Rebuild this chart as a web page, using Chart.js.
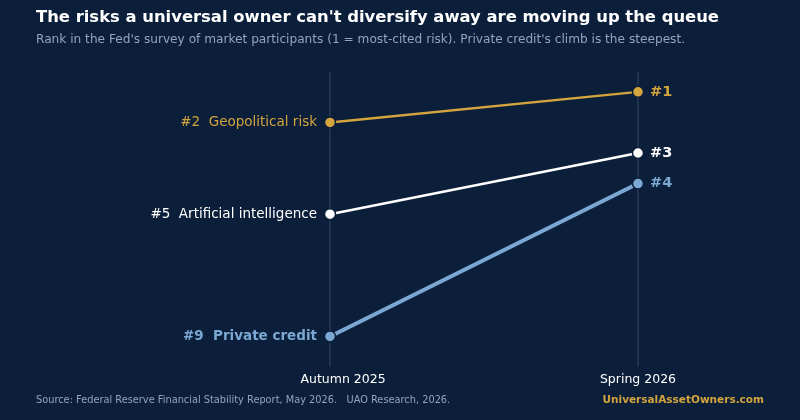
<!DOCTYPE html>
<html><head><meta charset="utf-8">
<script src="https://cdn.jsdelivr.net/npm/chart.js@4"></script>
<style>html,body{margin:0;background:#0b1f3a}#wrap{width:800px;height:420px}</style>
</head><body><div id="wrap"><canvas id="c"></canvas></div>
<script>
const periods = ["Autumn 2025", "Spring 2026"];
const risks = ["Geopolitical risk", "Artificial intelligence", "Private credit"];
const autumnRank = [2, 5, 9];
const springRank = [1, 3, 4];
const colors = ["#d4a43e", "#ffffff", "#7ba8d2"];
const widths = [2.5, 2.5, 4];

const font = "'DejaVu Sans', sans-serif";

const decor = {
  id: "decor",
  beforeDatasetsDraw(chart) {
    const { ctx, chartArea, scales } = chart;
    ctx.save();
    ctx.strokeStyle = "rgba(255,255,255,0.18)";
    ctx.lineWidth = 1;
    [0, 1].forEach(i => {
      const x = scales.x.getPixelForValue(i);
      ctx.beginPath(); ctx.moveTo(x, chartArea.top); ctx.lineTo(x, chartArea.bottom); ctx.stroke();
    });
    ctx.restore();
  },
  afterDatasetsDraw(chart) {
    const { ctx, scales } = chart;
    ctx.save();
    ctx.textBaseline = "middle";
    risks.forEach((r, i) => {
      const bold = i === 2 ? "bold " : "";
      ctx.fillStyle = colors[i];
      ctx.font = bold + "13.5px " + font;
      ctx.textAlign = "right";
      ctx.fillText("#" + autumnRank[i] + "  " + r, scales.x.getPixelForValue(0) - 13, scales.y.getPixelForValue(autumnRank[i]));
      ctx.font = "bold 14.5px " + font;
      ctx.textAlign = "left";
      ctx.fillText("#" + springRank[i], scales.x.getPixelForValue(1) + 12, scales.y.getPixelForValue(springRank[i]));
    });
    ctx.fillStyle = "#ffffff";
    ctx.font = "12.5px " + font;
    ctx.textAlign = "center";
    ctx.fillText(periods[0], scales.x.getPixelForValue(0) + 13, 380);
    ctx.fillText(periods[1], scales.x.getPixelForValue(1), 380);
    // title
    ctx.textAlign = "left";
    ctx.font = "bold 16.4px " + font;
    ctx.fillText("The risks a universal owner can't diversify away are moving up the queue", 36, 18);
    ctx.fillStyle = "#93a4bd";
    ctx.font = "12.15px " + font;
    ctx.fillText("Rank in the Fed's survey of market participants (1 = most-cited risk). Private credit's climb is the steepest.", 36, 40);
    ctx.font = "9.8px " + font;
    ctx.fillText("Source: Federal Reserve Financial Stability Report, May 2026.   UAO Research, 2026.", 36, 400);
    ctx.textAlign = "right";
    ctx.fillStyle = "#d4a43e";
    ctx.font = "bold 10.5px " + font;
    ctx.fillText("UniversalAssetOwners.com", 764, 400);
    ctx.restore();
  }
};

new Chart(document.getElementById("c"), {
  type: "line",
  data: {
    datasets: risks.map((r, i) => ({
      label: r,
      data: [{ x: 0, y: autumnRank[i] }, { x: 1, y: springRank[i] }],
      borderColor: colors[i],
      backgroundColor: colors[i],
      pointBorderColor: "#0b1f3a",
      pointBorderWidth: 1.5,
      borderWidth: widths[i],
      pointRadius: 5.5,
      order: 3 - i
    }))
  },
  options: {
    responsive: true, maintainAspectRatio: false, animation: false,
    layout: { padding: { left: 30, right: 30, top: 72, bottom: 53 } },
    plugins: { legend: { display: false }, tooltip: { enabled: false } },
    scales: {
      x: { type: "linear", display: false, min: -300 / 308, max: 1 + 132 / 308 },
      y: { display: false, reverse: true, min: 0.35, max: 10 }
    }
  },
  plugins: [decor]
});
</script></body></html>
